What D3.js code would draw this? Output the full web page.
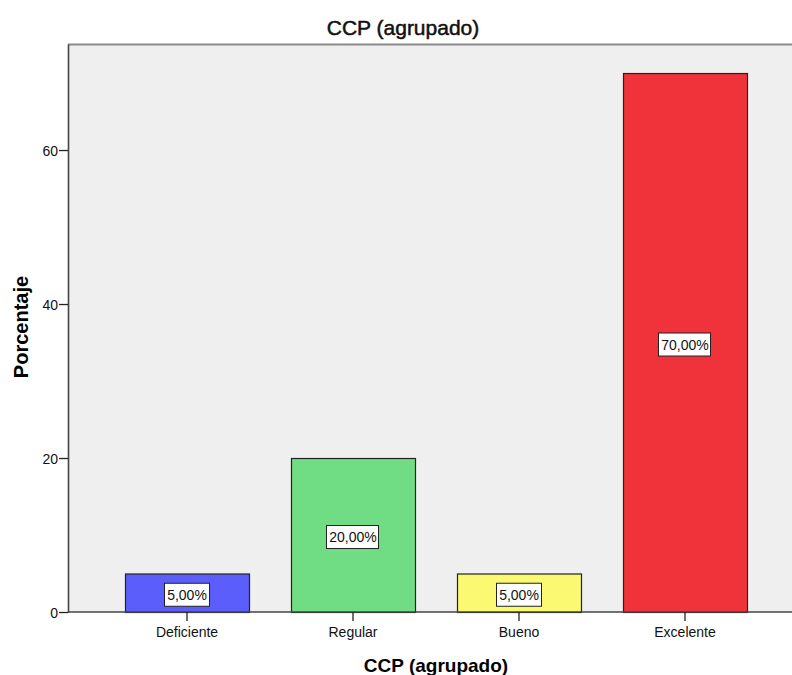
<!DOCTYPE html>
<html>
<head>
<meta charset="utf-8">
<script src="https://cdn.jsdelivr.net/npm/d3@7"></script>
<style>
  body { margin: 0; background: #fff; }
  text { font-family: "Liberation Sans", Arial, sans-serif; }
</style>
</head>
<body>
<div id="chart"></div>
<script>
// data
var categories = ["Deficiente", "Regular", "Bueno", "Excelente"];
var percents = [5, 20, 5, 70];
var colors = ["#5b5efb", "#70dc84", "#fbf872", "#f0323b"];
var yTicks = [0, 20, 40, 60];

var width = 792, height = 675;
var plot = { left: 68, right: 792, top: 44, bottom: 612 };

var svg = d3.select("#chart").append("svg")
    .attr("width", width)
    .attr("height", height);

var x = d3.scaleBand()
    .domain(categories)
    .range([104, 768])
    .paddingInner(0.253)
    .paddingOuter(0.1265);

var y = d3.scaleLinear()
    .domain([0, 73.77])
    .range([plot.bottom, plot.top]);

// plot background
svg.append("rect")
    .attr("x", plot.left)
    .attr("y", plot.top)
    .attr("width", plot.right - plot.left)
    .attr("height", plot.bottom - plot.top)
    .attr("fill", "#efefef");

svg.append("line")
    .attr("x1", plot.left).attr("x2", plot.right)
    .attr("y1", plot.top + 0.5).attr("y2", plot.top + 0.5)
    .attr("stroke", "#8a8a8a")
    .attr("stroke-width", 2);

// bars
svg.append("g").selectAll("rect")
    .data(percents)
    .enter()
    .append("rect")
      .attr("x", function(d, i){ return x(categories[i]) + 0.5 })
      .attr("y", function(d){ return y(d) + 0.5 })
      .attr("width", x.bandwidth())
      .attr("height", function(d){ return y(0) - y(d) })
      .attr("fill", function(d, i){ return colors[i] })
      .attr("stroke", "#222")
      .attr("stroke-width", 1.2);

// value labels, white box sized to the text
var labels = svg.append("g").selectAll("g")
    .data(percents)
    .enter()
    .append("g")
      .attr("transform", function(d, i){
          return "translate(" + (x(categories[i]) + x.bandwidth() / 2) + "," + ((y(d) + y(0)) / 2 + 2) + ")";
      });

labels.append("rect")
    .attr("fill", "#fff")
    .attr("stroke", "#222")
    .attr("stroke-width", 1);

labels.append("text")
    .attr("text-anchor", "middle")
    .attr("dy", "0.36em")
    .attr("font-size", 14)
    .attr("fill", "#111")
    .text(function(d){ return d.toFixed(2).replace(".", ",") + "%" });

labels.each(function(){
    var g = d3.select(this);
    var bb = g.select("text").node().getBBox();
    g.select("rect")
      .attr("x", Math.round(bb.x) - 2.5)
      .attr("y", -11.5)
      .attr("width", Math.round(bb.width) + 5)
      .attr("height", 23);
});

// axes
var xAxis = svg.append("g")
    .attr("transform", "translate(0," + plot.bottom + ")")
    .call(d3.axisBottom(x).tickSize(9).tickSizeOuter(0));

var yAxis = svg.append("g")
    .attr("transform", "translate(" + plot.left + ",0)")
    .call(d3.axisLeft(y).tickValues(yTicks).tickSize(9).tickSizeOuter(0));

[xAxis, yAxis].forEach(function(a){
    a.select(".domain").attr("stroke", "#444").attr("stroke-width", 1.6);
    a.selectAll(".tick line").attr("stroke", "#222").attr("stroke-width", 1.3);
    a.selectAll(".tick text")
      .attr("font-size", 14)
      .attr("font-family", "Liberation Sans, Arial, sans-serif")
      .attr("fill", "#111");
});
xAxis.selectAll(".tick text").attr("y", 25).attr("dy", 0);
xAxis.select(".domain").attr("d", "M" + plot.left + ",0H" + plot.right);
yAxis.selectAll(".tick text").attr("x", -10).attr("dy", "0.36em");

// titles
svg.append("text")
    .attr("x", 403).attr("y", 35)
    .attr("text-anchor", "middle")
    .attr("font-size", 21)
    .attr("fill", "#111")
    .attr("stroke", "#111")
    .attr("stroke-width", 0.5)
    .text("CCP (agrupado)");

svg.append("text")
    .attr("x", 436).attr("y", 672)
    .attr("text-anchor", "middle")
    .attr("font-size", 19)
    .attr("font-weight", "bold")
    .text("CCP (agrupado)");

svg.append("text")
    .attr("transform", "translate(28,327) rotate(-90)")
    .attr("text-anchor", "middle")
    .attr("font-size", 20)
    .attr("font-weight", "bold")
    .text("Porcentaje");
</script>
</body>
</html>
